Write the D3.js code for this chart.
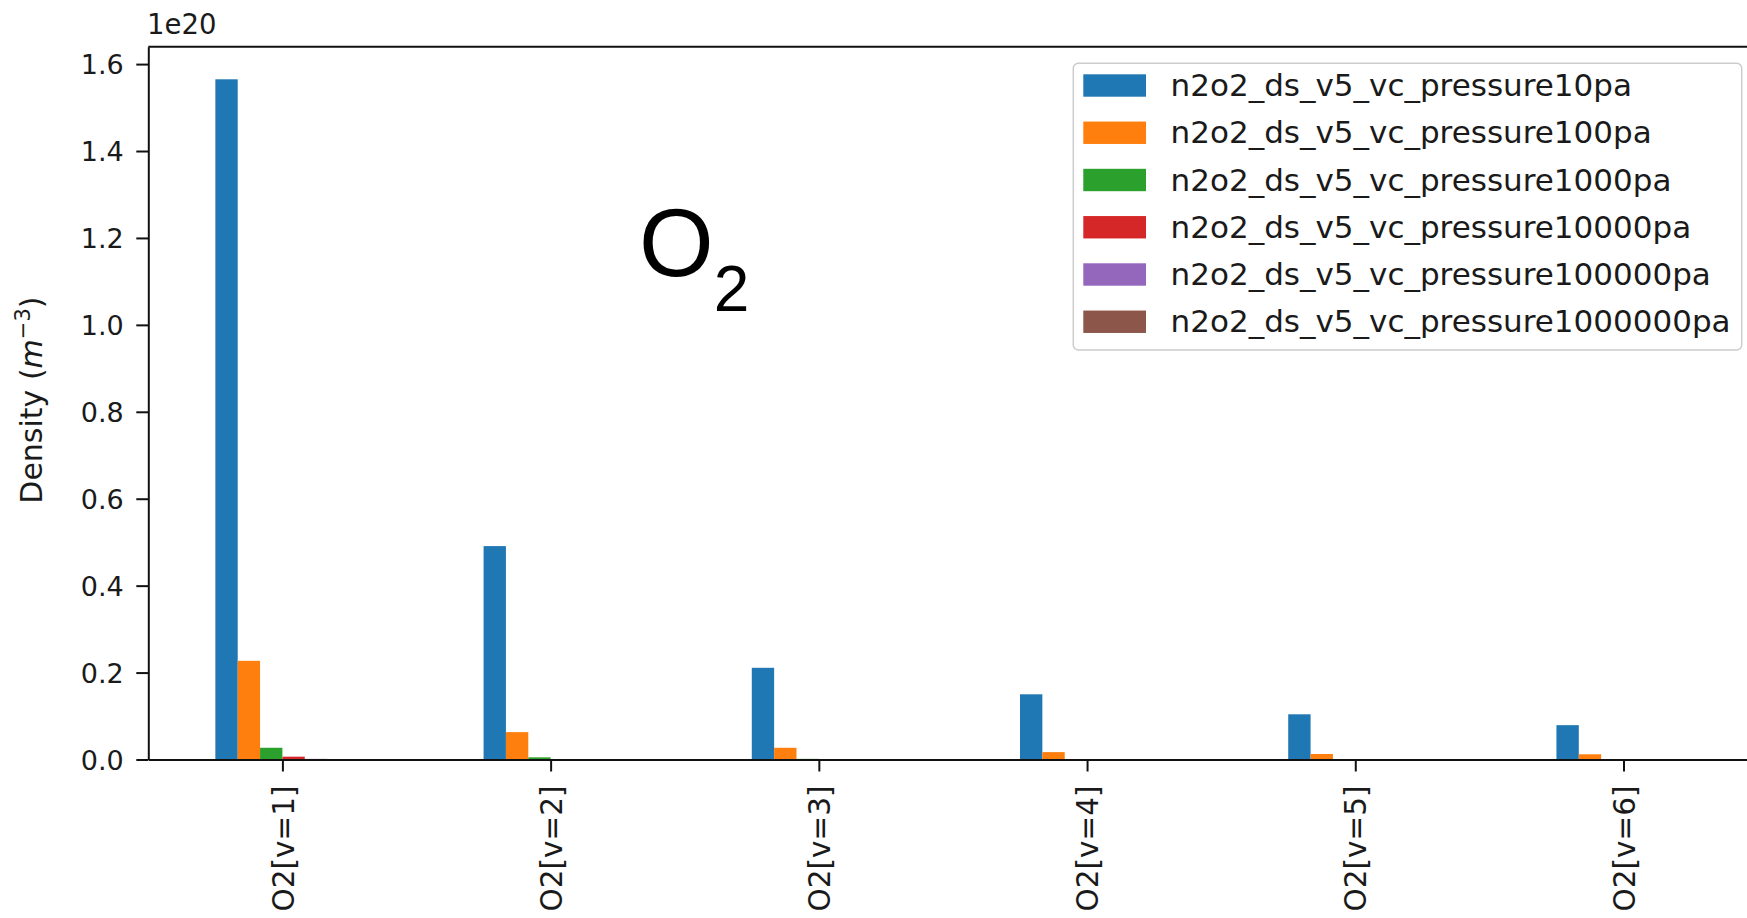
<!DOCTYPE html>
<html>
<head>
<meta charset="utf-8">
<script src="https://cdn.jsdelivr.net/npm/d3@7"></script>
<style>
  html, body { margin: 0; padding: 0; background: #fff; }
  svg { display: block; }
  text { font-family: "DejaVu Sans", sans-serif; fill: #1a1a1a; }
</style>
</head>
<body>
<svg id="chart" width="1747" height="918"></svg>
<script>
// ---- data (densities in m^-3) ----
const categories = ["O2[v=1]", "O2[v=2]", "O2[v=3]", "O2[v=4]", "O2[v=5]", "O2[v=6]"];
const seriesNames = [
  "n2o2_ds_v5_vc_pressure10pa",
  "n2o2_ds_v5_vc_pressure100pa",
  "n2o2_ds_v5_vc_pressure1000pa",
  "n2o2_ds_v5_vc_pressure10000pa",
  "n2o2_ds_v5_vc_pressure100000pa",
  "n2o2_ds_v5_vc_pressure1000000pa"
];
const p10pa      = [1.565e20, 0.491e20, 0.211e20, 0.150e20, 0.104e20, 0.079e20];
const p100pa     = [0.227e20, 0.063e20, 0.027e20, 0.017e20, 0.0127e20, 0.012e20];
const p1000pa    = [0.027e20, 0.005e20, 0.0015e20, 0.0008e20, 0.0005e20, 0.0004e20];
const p10000pa   = [0.0065e20, 0.001e20, 0.0003e20, 0.0002e20, 0.0001e20, 0.0001e20];
const p100000pa  = [0.0015e20, 0.0003e20, 0.0001e20, 0.00005e20, 0.00003e20, 0.00002e20];
const p1000000pa = [0.0004e20, 0.0001e20, 0.00003e20, 0.00002e20, 0.00001e20, 0.00001e20];
const seriesValues = [p10pa, p100pa, p1000pa, p10000pa, p100000pa, p1000000pa];
const colors = ["#1f77b4", "#ff7f0e", "#2ca02c", "#d62728", "#9467bd", "#8c564b"];
const yTicks = [0, 0.2, 0.4, 0.6, 0.8, 1.0, 1.2, 1.4, 1.6];
const yExponent = 1e20;

// ---- layout ----
const svg = d3.select("#chart");
const plotLeft = 148.3, plotRight = 1757.6, plotTop = 46.7, plotBottom = 759.5;

const x = d3.scaleLinear().domain([-0.5, categories.length - 0.5]).range([plotLeft, plotRight]);
const y = d3.scaleLinear().domain([0, 1.640]).range([plotBottom, plotTop]);

const totalWidth = 0.5;
const barW = totalWidth / seriesNames.length;

// bars
seriesValues.forEach((vals, si) => {
  svg.append("g").selectAll("rect").data(vals).join("rect")
    .attr("x", (d, i) => x(i - totalWidth / 2 + si * barW))
    .attr("width", x(barW) - x(0))
    .attr("y", d => y(d / yExponent))
    .attr("height", d => plotBottom - y(d / yExponent))
    .attr("fill", colors[si]);
});

// axes
const xAxis = d3.axisBottom(x)
  .tickValues(d3.range(categories.length))
  .tickFormat(i => categories[i])
  .tickSize(12).tickSizeOuter(0);
const gx = svg.append("g").attr("transform", `translate(0,${plotBottom})`).call(xAxis);
gx.selectAll("text")
  .style("font-size", "29.5px")
  .attr("transform", "rotate(-90)")
  .attr("text-anchor", "end")
  .attr("x", -26)
  .attr("y", 0)
  .attr("dy", "0.36em");

const yAxis = d3.axisLeft(y)
  .tickValues(yTicks)
  .tickFormat(d3.format(".1f"))
  .tickSize(12).tickSizeOuter(0);
const gy = svg.append("g").attr("transform", `translate(${plotLeft},0)`).call(yAxis);
gy.selectAll("text").style("font-size", "27px").attr("x", -24.5).attr("dy", "0.36em");

[gx, gy].forEach(g => {
  g.select(".domain").attr("stroke", "#111").attr("stroke-width", 2);
  g.selectAll(".tick line").attr("stroke", "#111").attr("stroke-width", 2);
});

// top spine
svg.append("line").attr("x1", plotLeft).attr("x2", plotRight).attr("y1", plotTop).attr("y2", plotTop)
  .attr("stroke", "#111").attr("stroke-width", 2);

// offset text
svg.append("text").attr("x", 147).attr("y", 34.3).style("font-size", "27.5px").text("1e20");

// y label
const yl = svg.append("text")
  .attr("transform", `translate(42,${(plotTop + plotBottom) / 2 - 3}) rotate(-90)`)
  .attr("text-anchor", "middle")
  .style("font-size", "30px");
yl.append("tspan").text("Density (");
yl.append("tspan").style("font-style", "italic").text("m");
yl.append("tspan").attr("dy", -12).style("font-size", "21px").text("\u22123");
yl.append("tspan").attr("dy", 12).text(")");

// big O2 annotation
const o2 = svg.append("text").attr("x", 639).attr("y", 275.5)
  .style("font-family", "'Liberation Sans', Arial, sans-serif").style("font-size", "96px").style("fill", "#000");
o2.append("tspan").text("O");
o2.append("tspan").attr("dy", 35).style("font-size", "64px").text("2");

// legend
const lg = svg.append("g");
lg.append("rect").attr("x", 1073.3).attr("y", 63.3).attr("width", 668.4).attr("height", 286.6)
  .attr("rx", 5).attr("fill", "#fff").attr("fill-opacity", 0.8)
  .attr("stroke", "#cccccc").attr("stroke-width", 1.5);
seriesNames.forEach((name, i) => {
  const cy = 85.5 + i * 47.25;
  lg.append("rect").attr("x", 1083.3).attr("y", cy - 11.2).attr("width", 62.7).attr("height", 22.4)
    .attr("fill", colors[i]);
  lg.append("text").attr("x", 1170.6).attr("y", cy + 10.5).style("font-size", "31px").text(name);
});
</script>
</body>
</html>
